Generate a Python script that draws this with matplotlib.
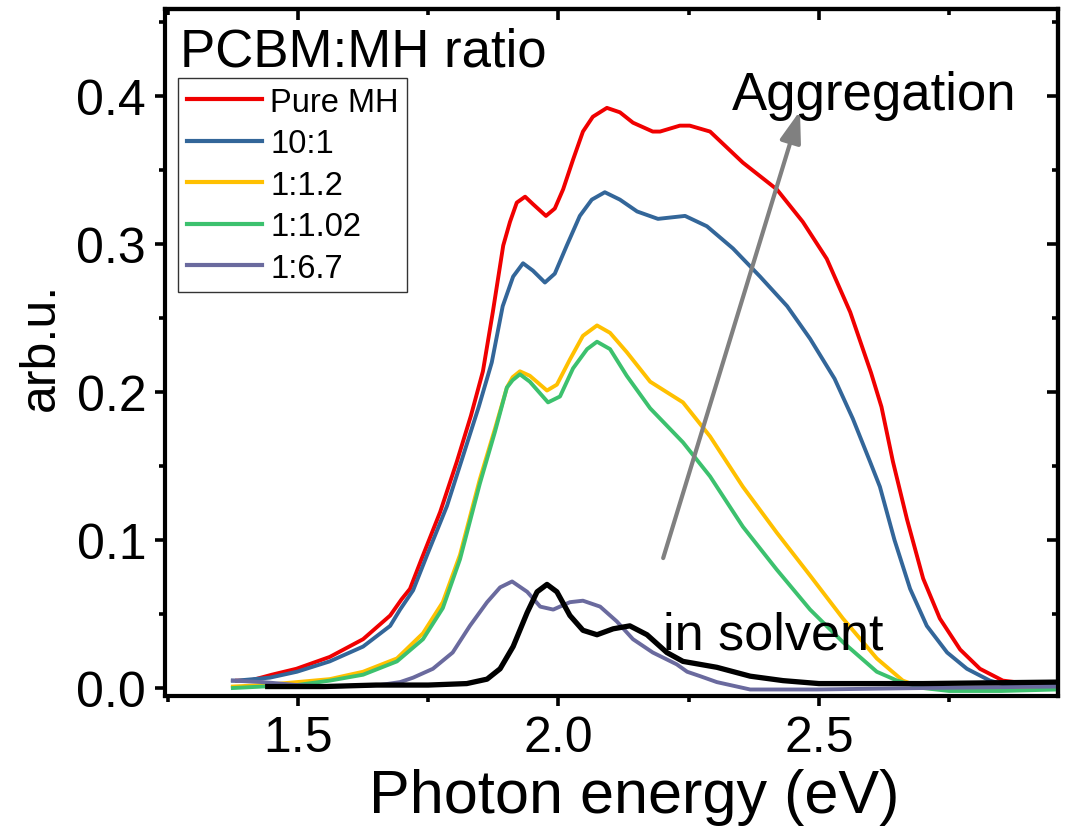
import matplotlib
matplotlib.use("Agg")
import matplotlib.pyplot as plt
from matplotlib.ticker import MultipleLocator

plt.rcParams['font.family'] = ['Liberation Sans', 'DejaVu Sans']

# Absorption spectra, photon energy (eV) vs arb.u.
pure_e = [1.383, 1.408, 1.45, 1.497, 1.561, 1.625, 1.677, 1.699, 1.715, 1.737, 1.773, 1.805,
          1.832, 1.855, 1.874, 1.894, 1.907, 1.920, 1.936, 1.951, 1.976, 1.993, 2.009, 2.028,
          2.047, 2.066, 2.093, 2.118, 2.143, 2.181, 2.195, 2.233, 2.252, 2.291, 2.354, 2.419,
          2.469, 2.515, 2.560, 2.600, 2.620, 2.642, 2.669, 2.700, 2.732, 2.771, 2.809, 2.853,
          2.90, 2.955]
pure_y = [0.005, 0.005, 0.009, 0.013, 0.021, 0.033, 0.049, 0.060, 0.067, 0.087, 0.119, 0.153,
          0.184, 0.214, 0.254, 0.299, 0.315, 0.328, 0.332, 0.327, 0.319, 0.324, 0.337, 0.357,
          0.376, 0.386, 0.392, 0.389, 0.382, 0.376, 0.376, 0.380, 0.380, 0.376, 0.355, 0.337,
          0.315, 0.290, 0.254, 0.213, 0.190, 0.153, 0.114, 0.074, 0.047, 0.026, 0.013, 0.005,
          0.003, 0.003]

r10_e = [1.375, 1.383, 1.446, 1.498, 1.561, 1.625, 1.677, 1.696, 1.721, 1.748, 1.786, 1.817,
         1.847, 1.872, 1.893, 1.913, 1.932, 1.951, 1.974, 1.993, 2.016, 2.041, 2.064, 2.089,
         2.118, 2.151, 2.191, 2.243, 2.285, 2.335, 2.387, 2.439, 2.483, 2.530, 2.565, 2.598,
         2.617, 2.645, 2.675, 2.707, 2.746, 2.784, 2.828, 2.87, 2.92, 2.955]
r10_y = [0.005, 0.005, 0.007, 0.011, 0.018, 0.028, 0.042, 0.053, 0.066, 0.090, 0.123, 0.157,
         0.190, 0.220, 0.258, 0.278, 0.287, 0.282, 0.274, 0.280, 0.299, 0.319, 0.330, 0.335,
         0.330, 0.322, 0.317, 0.319, 0.312, 0.297, 0.278, 0.258, 0.236, 0.209, 0.182, 0.153,
         0.136, 0.100, 0.067, 0.042, 0.024, 0.013, 0.005, 0.001, 0.001, 0.002]

r12_e = [1.375, 1.433, 1.498, 1.561, 1.625, 1.690, 1.740, 1.778, 1.811, 1.849, 1.878, 1.901,
         1.912, 1.926, 1.945, 1.978, 1.997, 2.022, 2.047, 2.074, 2.099, 2.131, 2.176, 2.239,
         2.291, 2.354, 2.419, 2.483, 2.546, 2.611, 2.661, 2.70, 2.80, 2.955]
r12_y = [0.001, 0.002, 0.004, 0.006, 0.011, 0.020, 0.037, 0.058, 0.090, 0.141, 0.175, 0.203,
         0.210, 0.214, 0.211, 0.201, 0.205, 0.222, 0.238, 0.245, 0.240, 0.227, 0.207, 0.193,
         0.170, 0.136, 0.105, 0.076, 0.047, 0.020, 0.005, 0.0, -0.001, 0.0]

r102_e = [1.375, 1.433, 1.498, 1.561, 1.625, 1.690, 1.740, 1.778, 1.811, 1.849, 1.878, 1.901,
          1.912, 1.926, 1.945, 1.980, 2.003, 2.028, 2.055, 2.074, 2.099, 2.131, 2.176, 2.239,
          2.291, 2.354, 2.419, 2.483, 2.546, 2.611, 2.650, 2.70, 2.75, 2.85, 2.955]
r102_y = [0.000, 0.001, 0.002, 0.005, 0.009, 0.018, 0.033, 0.054, 0.087, 0.138, 0.173, 0.203,
          0.208, 0.212, 0.207, 0.193, 0.197, 0.216, 0.229, 0.234, 0.229, 0.211, 0.189, 0.166,
          0.143, 0.109, 0.080, 0.053, 0.031, 0.011, 0.005, 0.0, -0.002, -0.002, -0.001]

r67_e = [1.375, 1.433, 1.498, 1.561, 1.657, 1.696, 1.721, 1.759, 1.797, 1.830, 1.863, 1.888,
         1.911, 1.940, 1.965, 1.990, 2.022, 2.047, 2.080, 2.112, 2.143, 2.181, 2.227, 2.247,
         2.272, 2.304, 2.368, 2.496, 2.70, 2.955]
r67_y = [0.005, 0.004, 0.002, 0.001, 0.002, 0.004, 0.007, 0.013, 0.024, 0.042, 0.058, 0.068,
         0.072, 0.065, 0.055, 0.053, 0.058, 0.059, 0.055, 0.045, 0.033, 0.024, 0.016, 0.011,
         0.008, 0.004, -0.001, -0.001, 0.0, 0.001]

solv_e = [1.442, 1.55, 1.65, 1.75, 1.824, 1.863, 1.888, 1.913, 1.940, 1.959, 1.978, 1.997,
          2.022, 2.047, 2.074, 2.105, 2.137, 2.170, 2.208, 2.239, 2.304, 2.368, 2.431, 2.50,
          2.70, 2.955]
solv_y = [0.001, 0.001, 0.002, 0.002, 0.003, 0.006, 0.013, 0.028, 0.051, 0.065, 0.070, 0.065,
          0.049, 0.039, 0.036, 0.040, 0.042, 0.036, 0.024, 0.018, 0.014, 0.008, 0.005, 0.003,
          0.003, 0.004]

labels = ['Pure MH', '10:1', '1:1.2', '1:1.02', '1:6.7']
colors = ['#f00000', '#336699', '#ffc000', '#3cc16e', '#6a6a9e']

fig = plt.figure(figsize=(10.76, 8.28), dpi=100)
ax = fig.add_axes([0.1533, 0.1582, 0.8299, 0.8297])

series = [(pure_e, pure_y), (r10_e, r10_y), (r12_e, r12_y), (r102_e, r102_y), (r67_e, r67_y)]
for (e, y), lab, c in zip(series, labels, colors):
    ax.plot(e, y, color=c, lw=2.8, label=lab, solid_joinstyle='round')
ax.plot(solv_e, solv_y, color='black', lw=3.8, zorder=5, solid_joinstyle='round')

ax.set_xlim(1.2447, 2.9587)
ax.set_ylim(-0.0054, 0.4588)

ax.xaxis.set_major_locator(MultipleLocator(0.5))
ax.xaxis.set_minor_locator(MultipleLocator(0.25))
ax.yaxis.set_major_locator(MultipleLocator(0.1))
ax.yaxis.set_minor_locator(MultipleLocator(0.05))
ax.xaxis.set_major_formatter(plt.FormatStrFormatter('%.1f'))
ax.yaxis.set_major_formatter(plt.FormatStrFormatter('%.1f'))

for s in ax.spines.values():
    s.set_linewidth(3)

# bottom/left ticks outward, mirrored ticks on top/right point inward
ax.tick_params(axis='both', which='major', length=7.5, width=2.6, labelsize=36, pad=6)
ax.tick_params(axis='both', which='minor', length=4, width=2.6)
ax.tick_params(axis='both', which='both', direction='out', top=False, right=False)
ax2 = ax.secondary_xaxis('top')
ax2.xaxis.set_major_locator(MultipleLocator(0.5))
ax2.xaxis.set_minor_locator(MultipleLocator(0.25))
ax2.tick_params(which='major', direction='in', length=8, width=2.6, labeltop=False)
ax2.tick_params(which='minor', direction='in', length=4, width=2.6)
ax3 = ax.secondary_yaxis('right')
ax3.yaxis.set_major_locator(MultipleLocator(0.1))
ax3.yaxis.set_minor_locator(MultipleLocator(0.05))
ax3.tick_params(which='major', direction='in', length=8, width=2.6, labelright=False)
ax3.tick_params(which='minor', direction='in', length=4, width=2.6)
for a in (ax2, ax3):
    for s in a.spines.values():
        s.set_linewidth(3)

ax.set_xlabel('Photon energy (eV)', fontsize=44)
ax.xaxis.set_label_coords(0.526, -0.105)
ax.set_ylabel('arb.u.', fontsize=36)
ax.yaxis.set_label_coords(-0.113, 0.51)

ax.text(0.0168, 0.918, 'PCBM:MH ratio', transform=ax.transAxes, fontsize=38,
        va='baseline', ha='left')

leg = ax.legend(loc='upper left', bbox_to_anchor=(178 / 1076, 1 - 79 / 828),
                bbox_transform=fig.transFigure, fontsize=23.5, frameon=True, fancybox=False,
                framealpha=1, edgecolor='#333333', borderpad=0.27, borderaxespad=0,
                labelspacing=0.32, handlelength=2.3, handletextpad=0.25)
leg.get_frame().set_linewidth(1.0)
for line in leg.get_lines():
    line.set_linewidth(3)

ax.annotate('', xy=(2.4636, 0.390), xytext=(2.201, 0.0878),
            arrowprops=dict(arrowstyle='-|>,head_length=0.95,head_width=0.32',
                            color='#808080', lw=3, mutation_scale=20, shrinkA=0, shrinkB=0))
ax.text(2.333, 0.391, 'Aggregation', fontsize=38, va='baseline', ha='left')
ax.text(2.2006, 0.027, 'in solvent', fontsize=37.5, va='baseline', ha='left')

fig.savefig('out.png', dpi=100)
